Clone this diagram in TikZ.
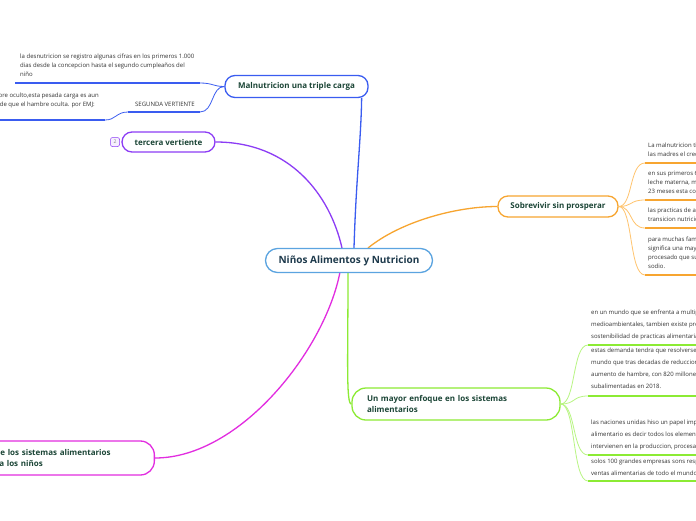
\documentclass[tikz,border=0pt]{standalone}
\usepackage{fontspec}
\setmainfont{Open Sans}
\definecolor{cblue}{HTML}{3A5CF0}
\definecolor{ccentral}{HTML}{5BA4E0}
\definecolor{cpurple}{HTML}{8C3CF5}
\definecolor{corange}{HTML}{F7A530}
\definecolor{corangel}{HTML}{FFC46E}
\definecolor{cgreen}{HTML}{8CEB34}
\definecolor{cgreenl}{HTML}{B8F582}
\definecolor{cmagenta}{HTML}{E22DE0}
\definecolor{ctitle}{HTML}{1B4536}
\definecolor{ccentraltxt}{HTML}{1E3A4C}
\definecolor{ctxt}{HTML}{333333}
\tikzset{
  topic/.style={draw, line width=1.3pt, rounded corners=10pt, fill=white, text=ctitle,
    font=\fontsize{8}{11}\selectfont\bfseries, inner sep=0pt},
  small/.style={font=\fontsize{6}{9}\selectfont, text=ctxt, align=left, inner sep=0pt, anchor=north west},
  smallg/.style={font=\fontsize{6}{12}\selectfont, text=ctxt, align=left, inner sep=0pt, anchor=north west},
  smallline/.style={font=\fontsize{6}{9}\selectfont, text=ctxt, inner sep=0pt, anchor=base east},
  mainline/.style={line width=1.3pt},
  subline/.style={line width=0.8pt},
  uline/.style={line width=1.8pt}
}
\begin{document}
\begin{tikzpicture}[x=1pt,y=-1pt]
\clip (0,0) rectangle (696,520);
\fill[white] (0,0) rectangle (696,520);

% ---------- anchor points on the central topic ----------
\coordinate (cB) at (354,248);
\coordinate (cP) at (342,248);
\coordinate (cO) at (368,248);
\coordinate (cG) at (348,272);
\coordinate (cM) at (340,272);

% ---------- main topics ----------
\node[topic, draw=cblue, minimum width=143pt, minimum height=22pt] (mal) at (296.5,86.5) {Malnutricion una triple carga};
\node[topic, draw=cpurple, minimum width=93pt, minimum height=20pt] (ter) at (168.5,142) {tercera vertiente};
\node[topic, draw=corange, minimum width=120pt, minimum height=21pt] (sob) at (558,206.5) {Sobrevivir sin prosperar};
\node[topic, draw=cgreen, rounded corners=14pt, text width=178pt, inner xsep=15pt, align=left, minimum height=32pt] (may) at (456,404) {Un mayor enfoque en los sistemas\\alimentarios};
\node[topic, draw=cmagenta, rounded corners=14pt, text width=144pt, inner xsep=15pt, align=left, minimum height=34pt, anchor=east] (mag) at (155,458) {de los sistemas alimentarios\\\hspace*{4pt}a los niños};

\coordinate (malin) at ([xshift=-7pt]mal.south east);
\draw[mainline, cblue] (cB) .. controls (356,180) and (361,140) .. (malin);
\draw[mainline, cpurple] (ter.east) .. controls (290,142) and (330,195) .. (cP);
\draw[mainline, corange] (cO) .. controls (400,222) and (455,206.5) .. (sob.west);
\draw[mainline, cgreen] (cG) .. controls (348,360) and (346,404) .. (may.west);
\draw[mainline, cmagenta] (cM) .. controls (325,350) and (240,458) .. (mag.east);

\node[draw=ccentral, line width=1.3pt, rounded corners=12pt, fill=white, minimum width=167pt, minimum height=24pt,
  inner sep=0pt, text=ccentraltxt, font=\fontsize{10}{12}\selectfont\bfseries] (root) at (349,260.5) {Niños Alimentos y Nutricion};

\node[draw=cpurple, fill=cpurple!8, rounded corners=2pt, minimum size=9pt, inner sep=0pt, line width=0.5pt,
  font=\fontsize{5}{5}\selectfont, text=gray] (badge) at (115,142) {2};

% ---------- blue subtopics ----------
\node[small] (b1) at (20,54) {la desnutricion se registro algunas cifras en los primeros 1.000\\dias desde la concepcion hasta el segundo cumpleaños del\\niño};
\coordinate (b1l) at (15,83); \coordinate (b1r) at (200,83);
\draw[uline, cblue] (b1l) -- (b1r);
\draw[subline, cblue] (b1r) .. controls (213,83) and (213,86.5) .. (mal.west);

\node[smallline] (sv) at (195,106) {SEGUNDA VERTIENTE};
\coordinate (b2l) at (128,112); \coordinate (b2r) at (200,112);
\draw[uline, cblue] (b2l) -- (b2r);
\draw[subline, cblue] (b2r) .. controls (214,112) and (211,86.5) .. (mal.west);

\node[smallline] (b3a) at (99,97) {hambre oculto,esta pesada carga es aun};
\node[smallline] (b3b) at (95,106) {de que el hambre oculta. por EMJ:};
\coordinate (b3l) at (-5,120); \coordinate (b3r) at (105,120);
\draw[uline, cblue] (b3l) -- (b3r);
\draw[subline, cblue] (b3r) .. controls (116,120) and (116,112) .. (b2l);

% ---------- orange subtopics ----------
\node[small] (o1) at (648,143) {La malnutricion tiene\\las madres el crecimiento};
\node[small] (o2) at (648,171) {en sus primeros 6 meses\\leche materna, mas\\23 meses esta complementada};
\node[small] (o3) at (648,208) {las practicas de alimentacion\\transicion nutricional};
\node[small] (o4) at (648,237) {para muchas familias\\significa una mayor\\procesado que suele\\sodio.};
\foreach \n/\yy in {1/163,2/200,3/228,4/275}{
  \coordinate (ou\n) at (645,\yy);
  \coordinate (ouR\n) at (700,\yy);
  \draw[uline, corange] (ou\n) -- (ouR\n);
  \draw[subline, corangel] (sob.east) .. controls (633,206.5) and (629,\yy) .. (ou\n);
}

% ---------- green subtopics ----------
\node[smallg] (g1) at (591,310) {en un mundo que se enfrenta a multiples\\medioambientales, tambien existe presion\\sostenibilidad de practicas alimentarias};
\node[smallg] (g2) at (591,348) {estas demanda tendra que resolverse en un\\mundo que tras decadas de reduccion\\aumento de hambre, con 820 millones de\\subalimentadas en 2018.};
\node[smallg] (g3) at (591,420) {las naciones unidas hiso un papel importante\\alimentario es decir todos los elementos\\intervienen en la produccion, procesamiento};
\node[smallg] (g4) at (591,459) {solos 100 grandes empresas sons responsables\\ventas alimentarias de todo el mundo};
\foreach \n/\yy in {1/345,2/396,3/455,4/481}{
  \coordinate (gu\n) at (588,\yy);
  \coordinate (guR\n) at (700,\yy);
  \draw[uline, cgreen] (gu\n) -- (guR\n);
  \draw[subline, cgreenl] (may.east) .. controls (576,404) and (572,\yy) .. (gu\n);
}
\end{tikzpicture}
\end{document}
